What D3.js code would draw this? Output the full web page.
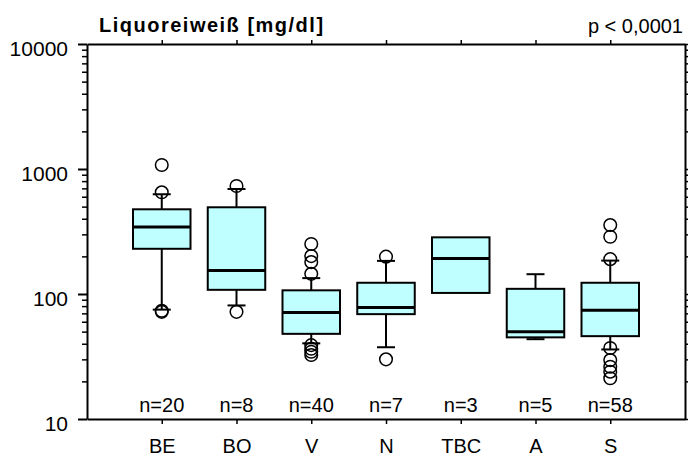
<!DOCTYPE html>
<html>
<head>
<meta charset="utf-8">
<script src="https://cdn.jsdelivr.net/npm/d3@7"></script>
<style>
  body { margin: 0; background: #fff; }
  svg { display: block; font-family: "Liberation Sans", Arial, sans-serif; }
  .axis path, .axis line { stroke: #000; }
</style>
</head>
<body>
<svg id="chart" width="688" height="457"></svg>
<script>
// data (mg/dl)
const categories = ['BE', 'BO', 'V', 'N', 'TBC', 'A', 'S'];
const nCounts = [20, 8, 40, 7, 3, 5, 58];
const q1 = [230, 108, 48, 69, 102, 45, 46];
const medians = [344, 154, 71, 78, 192, 50, 74];
const q3 = [476, 494, 107, 123, 284, 110, 123];
const whiskerLow = [75, 81, 40.3, 37.5, null, 43.5, 36];
const whiskerHigh = [628, 692, 134, 184, null, 144, 185];
const outliers = [
  [1076, 651, 73.5, 72],
  [731, 72],
  [251, 201, 180, 145, 39, 36.5, 34.5, 32.5],
  [199, 30],
  [],
  [],
  [356, 287, 190, 37, 29.6, 26.2, 23.9, 21.2]
];
const majorTicks = [10, 100, 1000, 10000];
const title = 'Liquoreiweiß [mg/dl]';
const pLabel = 'p < 0,0001';

// size
const width = 688;
const height = 457;
const margin = {top: 44, right: 3, bottom: 38, left: 87};
const fontFamily = '"Liberation Sans", Arial, sans-serif';

const svg = d3.select('#chart');

const x = d3.scaleLinear()
  .domain([0, categories.length + 1])
  .range([margin.left, width - margin.right]);

const y = d3.scaleLog()
  .domain([10, 10000])
  .range([height - margin.bottom, margin.top]);

const minorTicks = [];
for (let d = 10; d < 10000; d *= 10) {
  for (let k = 2; k <= 9; k++) minorTicks.push(d * k);
}
const catTicks = categories.map((c, i) => i + 1);

function styleAxis(g, lineWidth, size) {
  g.attr('font-family', fontFamily).attr('font-size', size || 20);
  g.selectAll('line').attr('stroke-width', lineWidth);
  g.selectAll('text').attr('fill', '#000');
}

// left axis
svg.append('g')
  .attr('class', 'axis')
  .attr('transform', 'translate(' + margin.left + ',0)')
  .call(d3.axisLeft(y).tickValues(minorTicks).tickSize(5).tickSizeOuter(0).tickFormat(''))
  .call(g => g.select('.domain').remove())
  .call(g => styleAxis(g, 1.5));

svg.append('g')
  .attr('class', 'axis')
  .attr('transform', 'translate(' + margin.left + ',0)')
  .call(d3.axisLeft(y).tickValues(majorTicks).tickSize(9).tickSizeOuter(0)
    .tickPadding(10).tickFormat(d3.format('d')))
  .call(g => g.select('.domain').attr('stroke-width', 2))
  .call(g => styleAxis(g, 2, 21))
  .call(g => g.selectAll('text').attr('dy', '0.53em'));

// right axis
svg.append('g')
  .attr('class', 'axis')
  .attr('transform', 'translate(' + (width - margin.right) + ',0)')
  .call(d3.axisRight(y).tickValues(minorTicks.concat(majorTicks)).tickSize(4).tickSizeOuter(0).tickFormat(''))
  .call(g => g.select('.domain').attr('stroke-width', 2))
  .call(g => styleAxis(g, 1.5));

// top axis
svg.append('g')
  .attr('class', 'axis')
  .attr('transform', 'translate(0,' + margin.top + ')')
  .call(d3.axisTop(x).tickValues(catTicks).tickSize(4).tickSizeOuter(0).tickFormat(''))
  .call(g => g.select('.domain').attr('stroke-width', 2))
  .call(g => styleAxis(g, 1.5));

// bottom axis
svg.append('g')
  .attr('class', 'axis')
  .attr('transform', 'translate(0,' + (height - margin.bottom) + ')')
  .call(d3.axisBottom(x).tickValues(catTicks).tickSize(5).tickSizeOuter(0)
    .tickPadding(15).tickFormat((d, i) => categories[i]))
  .call(g => g.select('.domain').attr('stroke-width', 2))
  .call(g => styleAxis(g, 1.5));

// boxes
const boxHalf = 28.75;
const capHalf = 9;
const plot = svg.append('g');

categories.forEach((c, i) => {
  const cx = x(i + 1);
  const g = plot.append('g');

  if (whiskerHigh[i] != null) {
    g.append('line')
      .attr('x1', cx).attr('x2', cx)
      .attr('y1', y(q3[i])).attr('y2', y(whiskerHigh[i]))
      .attr('stroke', '#000').attr('stroke-width', 2);
    g.append('line')
      .attr('x1', cx - capHalf).attr('x2', cx + capHalf)
      .attr('y1', y(whiskerHigh[i])).attr('y2', y(whiskerHigh[i]))
      .attr('stroke', '#000').attr('stroke-width', 2);
  }
  if (whiskerLow[i] != null) {
    g.append('line')
      .attr('x1', cx).attr('x2', cx)
      .attr('y1', y(q1[i])).attr('y2', y(whiskerLow[i]))
      .attr('stroke', '#000').attr('stroke-width', 2);
    g.append('line')
      .attr('x1', cx - capHalf).attr('x2', cx + capHalf)
      .attr('y1', y(whiskerLow[i])).attr('y2', y(whiskerLow[i]))
      .attr('stroke', '#000').attr('stroke-width', 2);
  }

  g.append('rect')
    .attr('x', cx - boxHalf)
    .attr('y', y(q3[i]))
    .attr('width', boxHalf * 2)
    .attr('height', y(q1[i]) - y(q3[i]))
    .attr('fill', '#c0ffff')
    .attr('stroke', '#000')
    .attr('stroke-width', 2);

  g.append('line')
    .attr('x1', cx - boxHalf).attr('x2', cx + boxHalf)
    .attr('y1', y(medians[i])).attr('y2', y(medians[i]))
    .attr('stroke', '#000').attr('stroke-width', 3);

  g.selectAll('circle')
    .data(outliers[i])
    .join('circle')
    .attr('cx', cx)
    .attr('cy', d => y(d))
    .attr('r', 6.3)
    .attr('fill', 'none')
    .attr('stroke', '#000')
    .attr('stroke-width', 1.5);

  g.append('text')
    .attr('x', cx)
    .attr('y', 412)
    .attr('text-anchor', 'middle')
    .attr('font-size', 20)
    .text('n=' + nCounts[i]);
});

// titles
svg.append('text')
  .attr('x', 99)
  .attr('y', 32)
  .attr('font-size', 20)
  .attr('font-weight', 'bold')
  .attr('letter-spacing', 1.5)
  .text(title);

svg.append('text')
  .attr('x', 683)
  .attr('y', 32.5)
  .attr('text-anchor', 'end')
  .attr('font-size', 20)
  .text(pLabel);
</script>
</body>
</html>
